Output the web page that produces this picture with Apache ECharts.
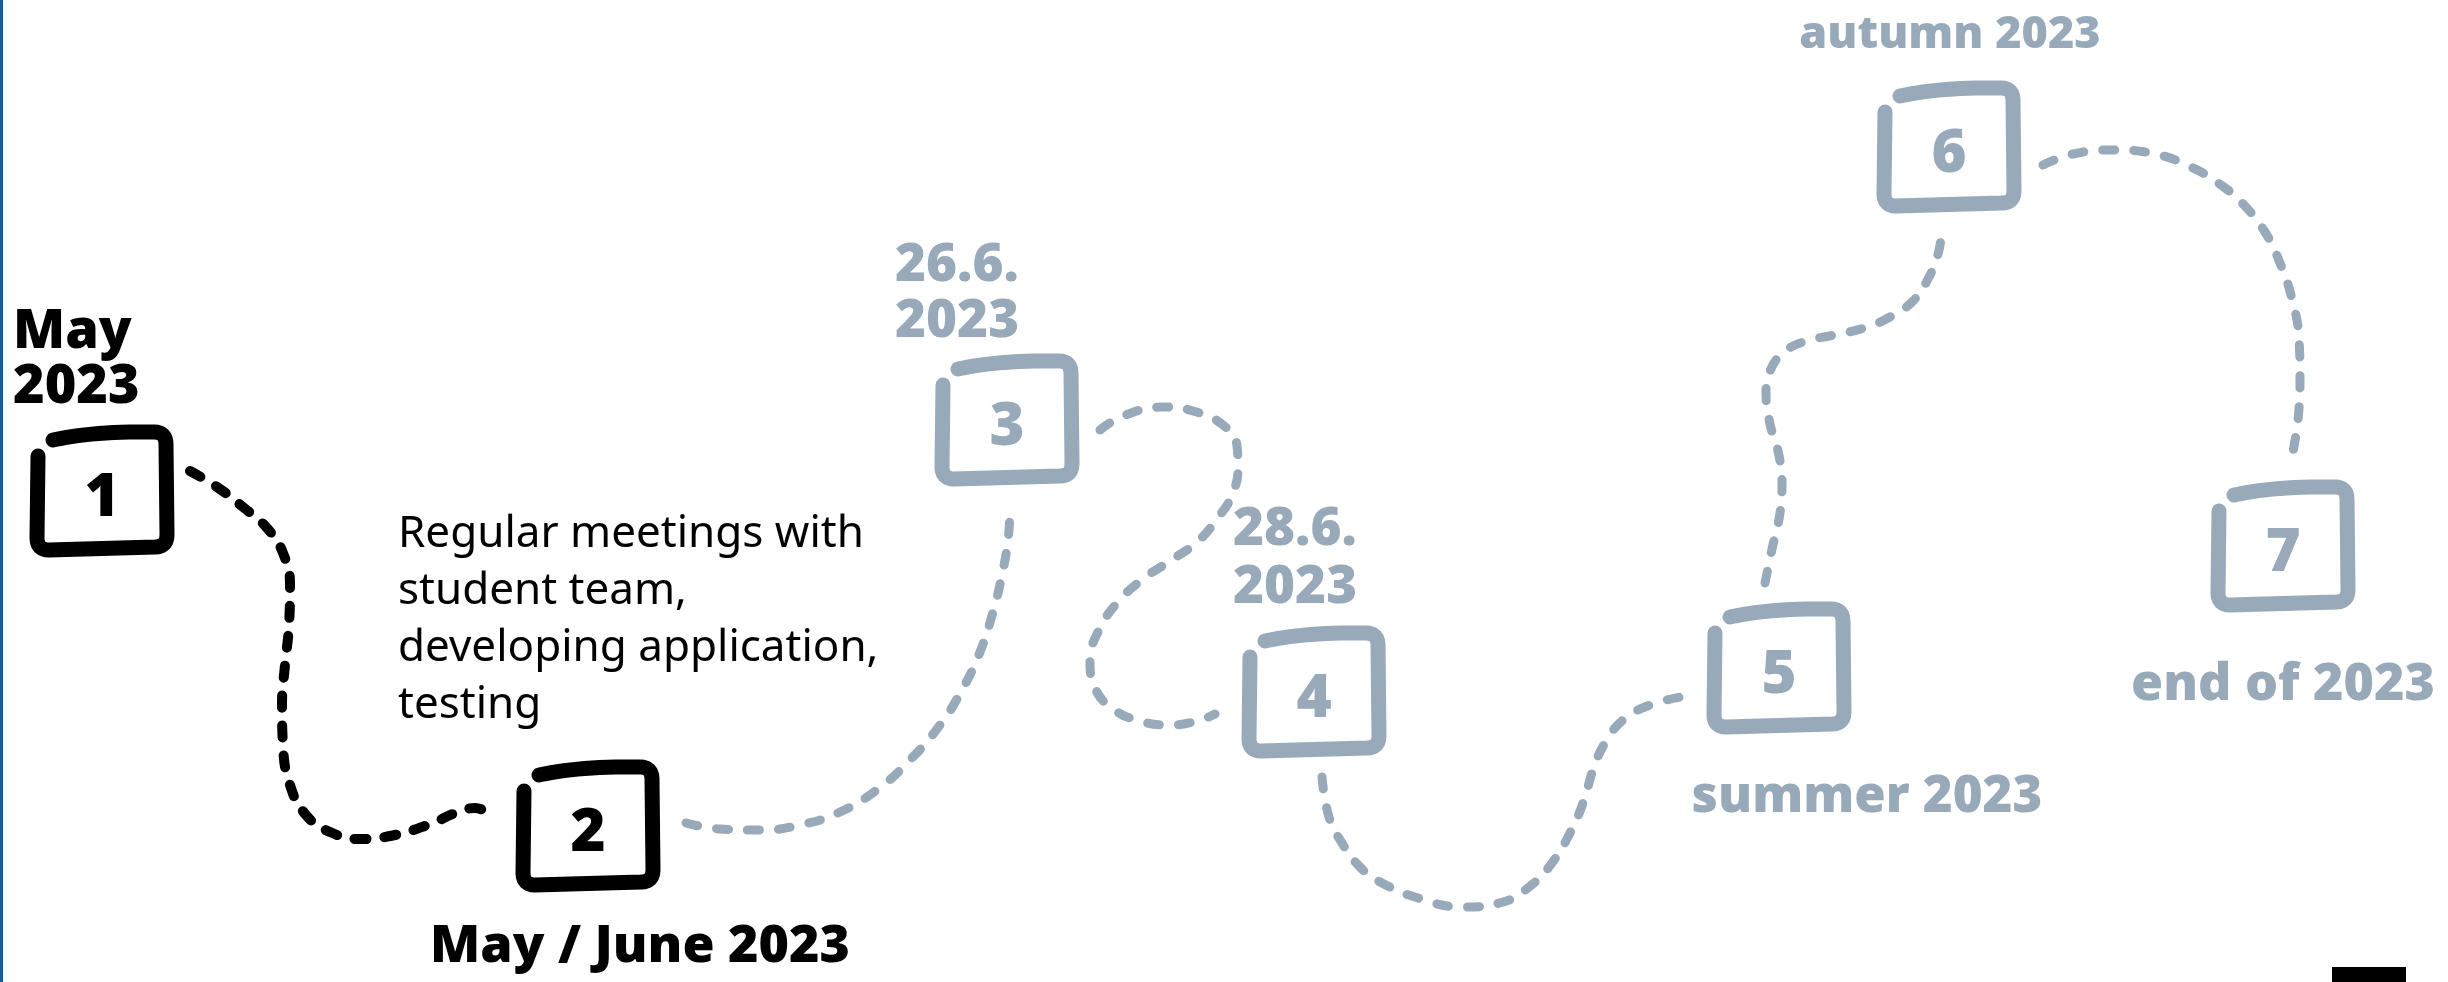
<!DOCTYPE html>
<html><head><meta charset="utf-8">
<script src="https://cdn.jsdelivr.net/npm/echarts@6/dist/echarts.min.js"></script>
<style>html,body{margin:0;padding:0;background:#fff;overflow:hidden}#c{width:2448px;height:982px;}</style>
</head><body><div id="c"></div>
<script>
// ---- data ----
const stepNumbers = ['1', '2', '3', '4', '5', '6', '7'];
const stepX = [102, 588, 1007, 1314, 1779, 1949, 2283];
const stepY = [491, 826, 420, 692, 668, 147, 546];
const stepLabels = ['May\n2023', 'May / June 2023', '26.6.\n2023', '28.6.\n2023', 'summer 2023', 'autumn 2023', 'end of 2023'];
const stepDone = [true, true, false, false, false, false, false];
const noteText = 'Regular meetings with\nstudent team,\ndeveloping application,\ntesting';

const path12 = [[190,471],[217,487],[243,507],[267,528],[283,553],[290,585],[289,625],[285,665],[282,705],[283,745],[290,785],[306,815],[330,832],[360,839],[395,835],[430,824],[458,812],[475,808],[490,814]];
const path23 = [[686,823],[720,829],[760,830],[800,825],[840,812],[878,789],[910,760],[940,725],[962,690],[980,652],[993,612],[1002,575],[1008,540],[1010,512]];
const path34 = [[1100,430],[1123,416],[1163,407],[1193,411],[1223,425],[1237,446],[1238,467],[1232,495],[1217,519],[1197,542],[1170,561],[1143,579],[1117,603],[1098,632],[1090,660],[1095,688],[1113,709],[1140,721],[1170,725],[1197,721],[1215,714]];
const path45 = [[1322,777],[1329,817],[1342,843],[1360,867],[1382,883],[1418,898],[1462,907],[1503,902],[1529,887],[1552,863],[1570,833],[1583,803],[1594,767],[1605,743],[1623,720],[1650,705],[1681,697]];
const path56 = [[1765,583],[1772,549],[1780,513],[1782,482],[1778,451],[1770,424],[1766,393],[1770,371],[1783,353],[1803,342],[1834,335],[1864,328],[1890,317],[1913,301],[1928,279],[1938,254],[1942,230]];
const path67 = [[2043,165],[2073,154],[2114,150],[2155,154],[2191,167],[2221,185],[2244,205],[2265,232],[2280,263],[2292,299],[2299,339],[2300,379],[2298,420],[2294,446],[2290,467]];
const pathDone = [true, false, false, false, false, false];

// ---- styles ----
const DARK = '#000000';
const GREY = '#98a9b9';
const labelLayout = [
  {dx: -89, dy: -131, align: 'left', size: 54, lh: 55},
  {dx: 52, dy: 121, align: 'center', size: 52, lh: 56},
  {dx: -112, dy: -126, align: 'left', size: 53, lh: 56},
  {dx: -81, dy: -133, align: 'left', size: 53, lh: 58},
  {dx: 88, dy: 129, align: 'center', size: 51, lh: 56},
  {dx: 1, dy: -112, align: 'center', size: 45, lh: 56},
  {dx: 0, dy: 139, align: 'center', size: 52, lh: 56}
];
const noteLayout = {dx: -190, dy: -206, size: 44, lh: 57};

function quad(p0, p1, p2, n) {
  const out = [];
  for (let i = 1; i <= n; i++) {
    const t = i / n, u = 1 - t;
    out.push([u*u*p0[0] + 2*u*t*p1[0] + t*t*p2[0], u*u*p0[1] + 2*u*t*p1[1] + t*t*p2[1]]);
  }
  return out;
}
function boxPoints(cx, cy) {
  const w = 65, h = 59;
  const P = (x, y) => [cx + x, cy + y];
  let pts = [P(-w + 1, -h + 24), P(-w, h - 12)];
  pts = pts.concat(quad(P(-w, h - 12), P(-w, h), P(-w + 12, h), 6));
  pts.push(P(w - 12, h - 3));
  pts = pts.concat(quad(P(w - 12, h - 3), P(w, h - 3), P(w, h - 15), 6));
  pts.push(P(w - 1, -h + 12));
  pts = pts.concat(quad(P(w - 1, -h + 12), P(w - 1, -h), P(w - 13, -h), 6));
  pts = pts.concat(quad(P(w - 13, -h), P(-8, -h - 1), P(-w + 16, -h + 8), 14));
  return pts;
}

const chart = echarts.init(document.getElementById('c'), null, {renderer: 'canvas'});
const paths = [path12, path23, path34, path45, path56, path67];
const series = paths.map((p, i) => ({
  type: 'line',
  data: p,
  smooth: 0.45,
  symbol: 'none',
  silent: true,
  animation: false,
  lineStyle: pathDone[i]
    ? {color: DARK, width: 10, type: [12, 18], cap: 'round', join: 'round'}
    : {color: GREY, width: 9, type: [12, 19], cap: 'round', join: 'round'}
}));

series.push({
  type: 'custom',
  silent: true,
  animation: false,
  data: stepX.map((x, i) => [x, stepY[i], i]),
  renderItem: function (params, api) {
    const i = api.value(2);
    const c = api.coord([api.value(0), api.value(1)]);
    const col = stepDone[i] ? DARK : GREY;
    const L = labelLayout[i];
    const children = [
      {type: 'polyline', shape: {points: boxPoints(c[0], c[1])},
       style: {stroke: col, lineWidth: 15, fill: null, lineCap: 'round', lineJoin: 'round'}},
      {type: 'text', x: c[0], y: c[1] + 8,
       style: {text: stepNumbers[i], fill: col, font: '900 60px "Noto Sans"', align: 'center', verticalAlign: 'middle'}},
      {type: 'text', x: c[0] + L.dx, y: c[1] + L.dy,
       style: {text: stepLabels[i], fill: col, font: '900 ' + L.size + 'px "Noto Sans"', align: L.align, verticalAlign: 'middle', lineHeight: L.lh}}
    ];
    if (i === 1) {
      children.push({type: 'text', x: c[0] + noteLayout.dx, y: c[1] + noteLayout.dy,
        style: {text: noteText, fill: '#000', font: noteLayout.size + 'px "Noto Sans"', align: 'left', verticalAlign: 'middle', lineHeight: noteLayout.lh}});
    }
    return {type: 'group', children: children};
  }
});

chart.setOption({
  animation: false,
  backgroundColor: '#ffffff',
  grid: {left: 0, right: 0, top: 0, bottom: 0},
  xAxis: {type: 'value', min: 0, max: 2448, show: false},
  yAxis: {type: 'value', min: 0, max: 982, inverse: true, show: false},
  graphic: [
    {type: 'rect', left: 0, top: 0, shape: {width: 3, height: 982}, style: {fill: '#1a5c9e'}, silent: true},
    {type: 'rect', left: 2332, top: 967, shape: {width: 74, height: 15}, style: {fill: '#000'}, silent: true}
  ],
  series: series
});
</script></body></html>
